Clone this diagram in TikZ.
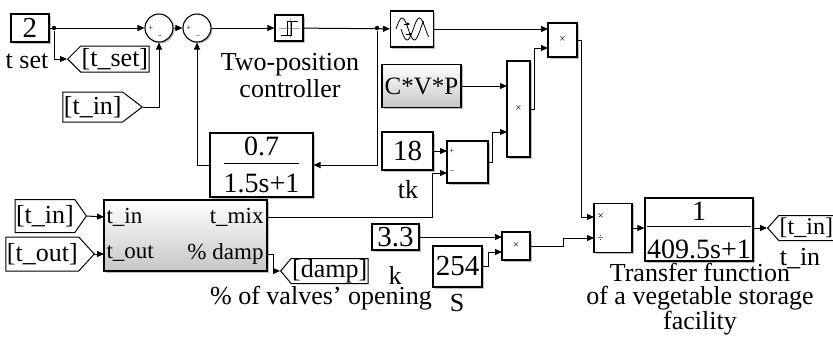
\documentclass[tikz,border=0pt]{standalone}
\usepackage{fontspec}
\setmainfont{Liberation Serif}
\usetikzlibrary{arrows.meta,shapes.symbols,shadows}
\setlength{\arrayrulewidth}{1.2pt}

\begin{document}
\begin{tikzpicture}[x=1pt,y=-1pt,line width=1pt,
		>={Triangle[length=7pt,width=6pt]},
		blk/.style={draw,fill=white,line width=1.1pt,inner sep=0pt,
			drop shadow={shadow xshift=1.5pt,shadow yshift=-1.5pt,fill=black!50,opacity=.5}},
		grayblk/.style={blk,top color=white,bottom color=black!22},
		sumc/.style={blk,circle,minimum size=28pt},
		txt/.style={inner sep=0pt,align=center,font=\fontsize{26}{27}\selectfont},
		num/.style={font=\fontsize{29}{29}\selectfont},
		frac/.style={font=\fontsize{28}{28}\selectfont\renewcommand\arraystretch{0}},
		port/.style={inner sep=0pt,font=\fontsize{23}{23}\selectfont},
		sgn/.style={inner sep=0pt,font=\fontsize{8}{8}\selectfont},
		tagbase/.style={draw,line width=1pt,fill=white,signal,signal pointer angle=100,
			inner xsep=1pt,inner ysep=0pt,minimum height=26pt,font=\fontsize{26}{26}\selectfont},
		tagto/.style={tagbase,signal to=west},
		tagfrom/.style={tagbase,signal to=east},
		junc/.style={circle,fill,inner sep=0pt,minimum size=4.5pt}]
	\useasboundingbox (0,0) rectangle (833,349);

	% set point and two sums
	\node[blk,num,minimum width=38pt,minimum height=28pt] (c2) at (30,28) {2};
	\node[txt] (tset) at (27,61) {t set};
	\node[junc] (j1) at (54,28) {};
	\node[tagto,signal pointer angle=90,anchor=west] (gTset) at (67,59) {[t\_set]};
	\node[tagfrom,signal pointer angle=75,minimum height=30pt,anchor=east] (fTin1) at (143,107) {[t\_in]};
	\node[sumc] (sum1) at (159,28) {};
	\node[sgn] (s1p) at (151,28) {+};
	\node[sgn] (s1m) at (160,37) {−};
	\node[sumc] (sum2) at (197,28) {};
	\node[sgn] (s2p) at (189,28) {+};
	\node[sgn] (s2m) at (198,37) {−};

	% relay
	\node[blk,minimum width=28pt,minimum height=26pt] (relay) at (289,28) {};
	\draw[black!35,line width=.6pt] (279,28) -- (300,28) (290,18) -- (290,38);
	\draw[line width=.9pt] (281,35) -- (291,35) -- (291,21) (298,21) -- (287,21) -- (287,35);
	\node[txt] (relaylbl) at (290,76) {Two-position\\controller};
	\node[junc] (j2) at (377,28) {};

	% lookup
	\node[blk,minimum width=43pt,minimum height=36pt] (look) at (412,29) {};
	\draw[line width=.8pt] plot[smooth,domain=0:405,samples=28] ({396+\x*0.068},{29-11*sin(\x)});
	\draw[line width=.8pt] plot[smooth,domain=0:405,samples=28] ({401+\x*0.068},{29+11*sin(\x)});
	\draw[line width=.6pt,-{Triangle[length=3pt,width=3pt]}] (404,24) -- (410,24);
	\draw[line width=.6pt,-{Triangle[length=3pt,width=3pt]}] (406,34) -- (412,34);

	% feedback filter
	\node[blk,frac,minimum width=103pt,minimum height=64pt] (fb) at (261.5,165)
		{\begin{tabular}{@{}c@{}}\rule[-7pt]{0pt}{22.5pt}0.7\\\hline\rule{0pt}{28.5pt}1.5s+1\end{tabular}};

	% power branch
	\node[grayblk,minimum width=79pt,minimum height=43pt,font=\fontsize{25}{25}\selectfont] (cvp) at (421.5,86) {C*V*P};
	\node[blk,num,minimum width=51pt,minimum height=38pt] (c18) at (407.5,151) {18};
	\node[txt] (tklbl) at (408,190) {tk};
	\node[blk,minimum width=41pt,minimum height=42pt] (s3) at (467.5,162) {};
	\node[sgn,anchor=west] (s3p) at (449,151) {+};
	\node[sgn,anchor=west] (s3m) at (449,172) {−};
	\node[blk,minimum width=23pt,minimum height=96pt,font=\fontsize{11}{11}\selectfont] (p2) at (518.5,109) {×};
	\node[blk,minimum width=29pt,minimum height=34pt,font=\fontsize{11}{11}\selectfont] (p1) at (562.5,40) {×};
	\coordinate (p1in1) at (548,29);
	\coordinate (p1in2) at (548,48);
	\coordinate (p2in1) at (507,86);
	\coordinate (p2in2) at (507,132);
	\coordinate (s3in1) at (447,151);
	\coordinate (s3in2) at (447,173);

	% storage model
	\node[grayblk,minimum width=163pt,minimum height=71pt] (sub) at (185.5,235.5) {};
	\coordinate (subi1) at (104,217);
	\coordinate (subi2) at (104,254);
	\coordinate (subo1) at (267,217);
	\coordinate (subo2) at (267,254);
	\node[port,anchor=west] (pin1) at (106,217) {t\_in};
	\node[port,anchor=west] (pin2) at (106,254) {t\_out};
	\node[port,anchor=east] (pout1) at (264,217) {t\_mix};
	\node[port,anchor=east] (pout2) at (264,254) {\% damp};
	\node[tagfrom,signal pointer angle=110,minimum height=33pt,anchor=east] (fTin2) at (87,216) {[t\_in]};
	\node[tagfrom,signal pointer angle=95,minimum height=34pt,anchor=east] (fTout) at (95,254) {[t\_out]};
	\node[tagto,minimum height=25pt,anchor=west] (gDamp) at (280,271) {[damp]};
	\node[txt] (damplbl) at (321,298) {\% of valves' opening};

	% heat flow and plant
	\node[blk,num,minimum width=47pt,minimum height=26pt] (c33) at (395.5,237) {3.3};
	\node[txt] (klbl) at (395,275) {k};
	\node[blk,num,minimum width=49pt,minimum height=41pt] (c254) at (457.5,266.5) {254};
	\node[txt] (slbl) at (457,303) {S};
	\node[blk,minimum width=28pt,minimum height=28pt,font=\fontsize{11}{11}\selectfont] (p3) at (516,246) {×};
	\coordinate (p3in1) at (502,237);
	\coordinate (p3in2) at (502,252);
	\node[blk,minimum width=38pt,minimum height=49pt] (p4) at (613,228) {};
	\node[sgn,anchor=west,font=\fontsize{11}{11}\selectfont] (p4m) at (597,217) {×};
	\node[sgn,anchor=west,font=\fontsize{11}{11}\selectfont] (p4d) at (597,238) {÷};
	\coordinate (p4in1) at (594,217);
	\coordinate (p4in2) at (594,238);
	\node[blk,frac,minimum width=108pt,minimum height=63pt] (tf2) at (699,229.5)
		{\begin{tabular}{@{}c@{}}\rule[-6pt]{0pt}{26pt}1\\\hline\rule{0pt}{31pt}409.5s+1\end{tabular}};
	\node[tagto,signal pointer angle=97,minimum height=25pt,font=\fontsize{24}{24}\selectfont,anchor=west] (gTin) at (767,228) {[t\_in]};
	\node[txt] (tinlbl) at (800,259) {t\_in};
	\node[txt,font=\fontsize{26}{22.5}\selectfont] (tflbl) at (700,299) {Transfer function\\of a vegetable storage\\facility};

	% connectors
	\draw[->] (c2) -- (sum1);
	\draw[->] (j1) |- (gTset.west);
	\draw[->] (fTin1.east) -| (sum1.south);
	\draw[->] (sum1) -- (sum2);
	\draw[->] (sum2) -- (relay);
	\draw[->] (relay) -- (look);
	\draw[->] (j2) |- (fb.east);
	\draw[->] (fb.west) -| (sum2.south);
	\draw[->] (look) -- (p1in1);
	\draw[->] (cvp) -- (p2in1);
	\draw[->] (p2.east) -- ++(4,0) |- (p1in2);
	\draw[->] (c18) -- (s3in1);
	\draw[->] (subo1) -- ++(165,0) |- (s3in2);
	\draw[->] (s3.east) -- ++(4,0) |- (p2in2);
	\draw[->] (p1.east) -- ++(4,0) |- (p4in1);
	\draw[->] (fTin2.east) -- (subi1);
	\draw[->] (fTout.east) -- (subi2);
	\draw[->] (subo2) -- ++(6,0) |- (gDamp.west);
	\draw[->] (c33) -- (p3in1);
	\draw[->] (c254.east) -- ++(6,0) |- (p3in2);
	\draw[->] (p3.east) -- ++(33,0) |- (p4in2);
	\draw[->] (p4) -- (tf2.west |- p4);
	\draw[->] (tf2.east |- gTin.west) -- (gTin.west);
\end{tikzpicture}
\end{document}
